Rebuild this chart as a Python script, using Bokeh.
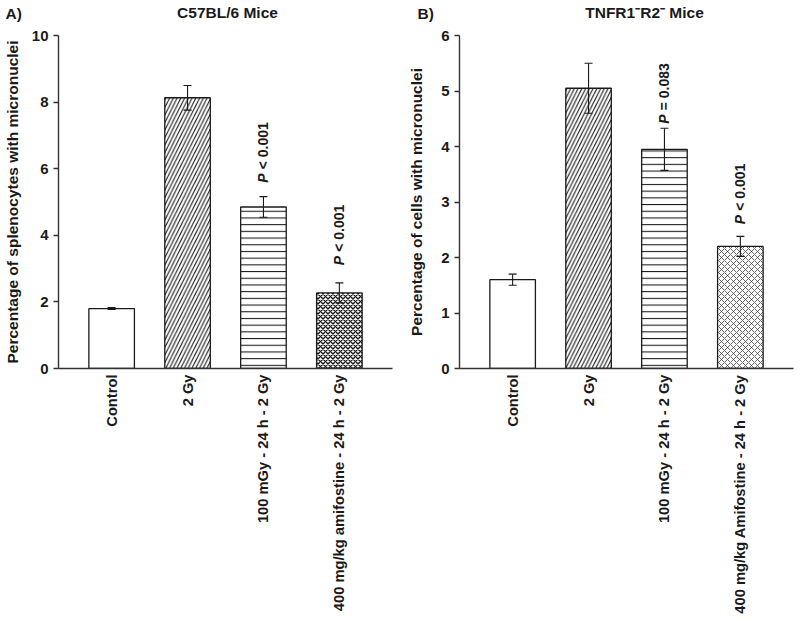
import math
from bokeh.plotting import figure
from bokeh.layouts import row, column
from bokeh.models import FactorRange, Range1d, FixedTicker, Whisker, TeeHead, ColumnDataSource
from bokeh.core.properties import value
from bokeh.embed import file_html
from bokeh.resources import INLINE

# ---------------- data ----------------
categories_a = ["Control", "2 Gy", "100 mGy - 24 h - 2 Gy", "400 mg/kg amifostine - 24 h - 2 Gy"]
values_a = [1.80, 8.13, 4.85, 2.27]
errors_a = [0.03, 0.37, 0.31, 0.30]
yticks_a = [0, 2, 4, 6, 8, 10]
pvalue_text_a = ["", "", "< 0.001", "< 0.001"]
pvalue_y_a = [0, 0, 5.58, 3.10]

categories_b = ["Control", "2 Gy", "100 mGy - 24 h - 2 Gy", "400 mg/kg Amifostine - 24 h - 2 Gy"]
values_b = [1.60, 5.05, 3.95, 2.20]
errors_b = [0.10, 0.45, 0.38, 0.18]
yticks_b = [0, 1, 2, 3, 4, 5, 6]
pvalue_text_b = ["", "", "= 0.083", "< 0.001"]
pvalue_y_b = [0, 0, 4.41, 2.60]

header_texts = ["A)", "C57BL/6 Mice", "B)", "TNFR1\u207bR2\u207b Mice"]

FONT = "Liberation Sans"
INK = "#1a1a1a"

styles_a = [
    dict(hatch_pattern=None),
    dict(hatch_pattern="/", hatch_scale=7.5, hatch_weight=1.1, hatch_color=INK),
    dict(hatch_pattern="-", hatch_scale=6.7, hatch_weight=1.1, hatch_color=INK),
    dict(hatch_pattern="x", hatch_scale=5.0, hatch_weight=1.4, hatch_color=INK),
]
styles_b = [
    dict(hatch_pattern=None),
    dict(hatch_pattern="/", hatch_scale=7.5, hatch_weight=1.1, hatch_color=INK),
    dict(hatch_pattern="-", hatch_scale=6.7, hatch_weight=1.1, hatch_color=INK),
    dict(hatch_pattern="x", hatch_scale=6.0, hatch_weight=0.8, hatch_color="#444444"),
]

HEADER_H = 26

# ---------------- header (panel letters and titles) ----------------
header = figure(width=800, height=HEADER_H, x_range=Range1d(0, 800), y_range=Range1d(0, HEADER_H),
                output_backend="svg", toolbar_location=None, title_location=None,
                x_axis_type=None, y_axis_type=None,
                min_border_left=0, min_border_right=0, min_border_top=0, min_border_bottom=0)
header.outline_line_color = None
header.background_fill_color = "white"
header.border_fill_color = "white"
header.text(x=[5, 227, 417, 644], y=[13, 14, 13, 14], text=header_texts,
            text_align=["left", "center", "left", "center"], text_baseline="middle",
            text_font=value(FONT), text_font_size="15.5px", text_font_style="bold", text_color=INK)


def make_panel(cats, vals, errs, ticks, ylabel, pv_text, pv_y, styles,
               width, height, bl, br, bt, bb, label_standoff):
    y_end = ticks[-1]
    p = figure(x_range=FactorRange(factors=cats, range_padding=0.1),
               y_range=Range1d(0, y_end),
               width=width, height=height, output_backend="svg", toolbar_location=None,
               title_location=None,
               min_border_left=bl, min_border_right=br, min_border_top=bt, min_border_bottom=bb)
    p.outline_line_color = None
    p.xgrid.grid_line_color = None
    p.ygrid.grid_line_color = None
    p.background_fill_color = "white"
    p.border_fill_color = "white"

    for c, v, st in zip(cats, vals, styles):
        p.vbar(x=[c], top=[v], width=0.6, fill_color="white", line_color=INK, line_width=1.3, **st)

    src = ColumnDataSource(dict(x=cats, upper=[v + e for v, e in zip(vals, errs)],
                                lower=[v - e for v, e in zip(vals, errs)]))
    w = Whisker(source=src, base="x", upper="upper", lower="lower", line_color=INK, line_width=1.1,
                upper_head=TeeHead(size=8, line_color=INK, line_width=1.1),
                lower_head=TeeHead(size=8, line_color=INK, line_width=1.1), level="annotation")
    p.add_layout(w)

    frame_h = height - bt - bb
    ppu = frame_h / y_end
    shift = 13.5 / ppu
    for c, t, y in zip(cats, pv_text, pv_y):
        if not t:
            continue
        p.text(x=[c], y=[y], text=["P"], angle=math.pi / 2, text_align="left", text_baseline="middle",
               text_font=value(FONT), text_font_size="14px", text_font_style="bold italic", text_color=INK)
        p.text(x=[c], y=[y + shift], text=[t], angle=math.pi / 2, text_align="left", text_baseline="middle",
               text_font=value(FONT), text_font_size="14px", text_font_style="bold", text_color=INK)

    # axes
    yax = p.yaxis[0]
    yax.ticker = FixedTicker(ticks=ticks)
    yax.axis_label = ylabel
    yax.axis_label_text_font = FONT
    yax.axis_label_text_font_size = "15.5px"
    yax.axis_label_text_font_style = "bold"
    yax.axis_label_text_color = INK
    yax.axis_label_standoff = label_standoff
    yax.major_label_text_font = FONT
    yax.major_label_text_font_size = "15px"
    yax.major_label_text_font_style = "bold"
    yax.major_label_text_color = INK
    yax.major_label_standoff = 5
    yax.major_tick_in = 0
    yax.major_tick_out = 5
    yax.minor_tick_line_color = None
    yax.axis_line_width = 1.4
    yax.axis_line_color = "#333333"
    yax.major_tick_line_width = 1.4
    yax.major_tick_line_color = "#333333"

    xax = p.xaxis[0]
    xax.major_label_orientation = math.pi / 2
    xax.major_label_text_font = FONT
    xax.major_label_text_font_size = "14.7px"
    xax.major_label_text_font_style = "bold"
    xax.major_label_text_color = INK
    xax.major_label_standoff = 6
    xax.major_tick_in = 0
    xax.major_tick_out = 0
    xax.major_tick_line_color = None
    xax.minor_tick_line_color = None
    xax.axis_line_width = 1.4
    xax.axis_line_color = "#333333"
    return p


pa = make_panel(categories_a, values_a, errors_a, yticks_a, "Percentage of splenocytes with micronuclei",
                pvalue_text_a, pvalue_y_a, styles_a,
                width=400, height=621 - HEADER_H, bl=57, br=8, bt=34 - HEADER_H, bb=252, label_standoff=8)
pb = make_panel(categories_b, values_b, errors_b, yticks_b, "Percentage of cells with micronuclei",
                pvalue_text_b, pvalue_y_b, styles_b,
                width=400, height=621 - HEADER_H, bl=59, br=7, bt=35 - HEADER_H, bb=253, label_standoff=13)

layout = column(header, row(pa, pb))
open("out.html", "w").write(file_html(layout, INLINE))
